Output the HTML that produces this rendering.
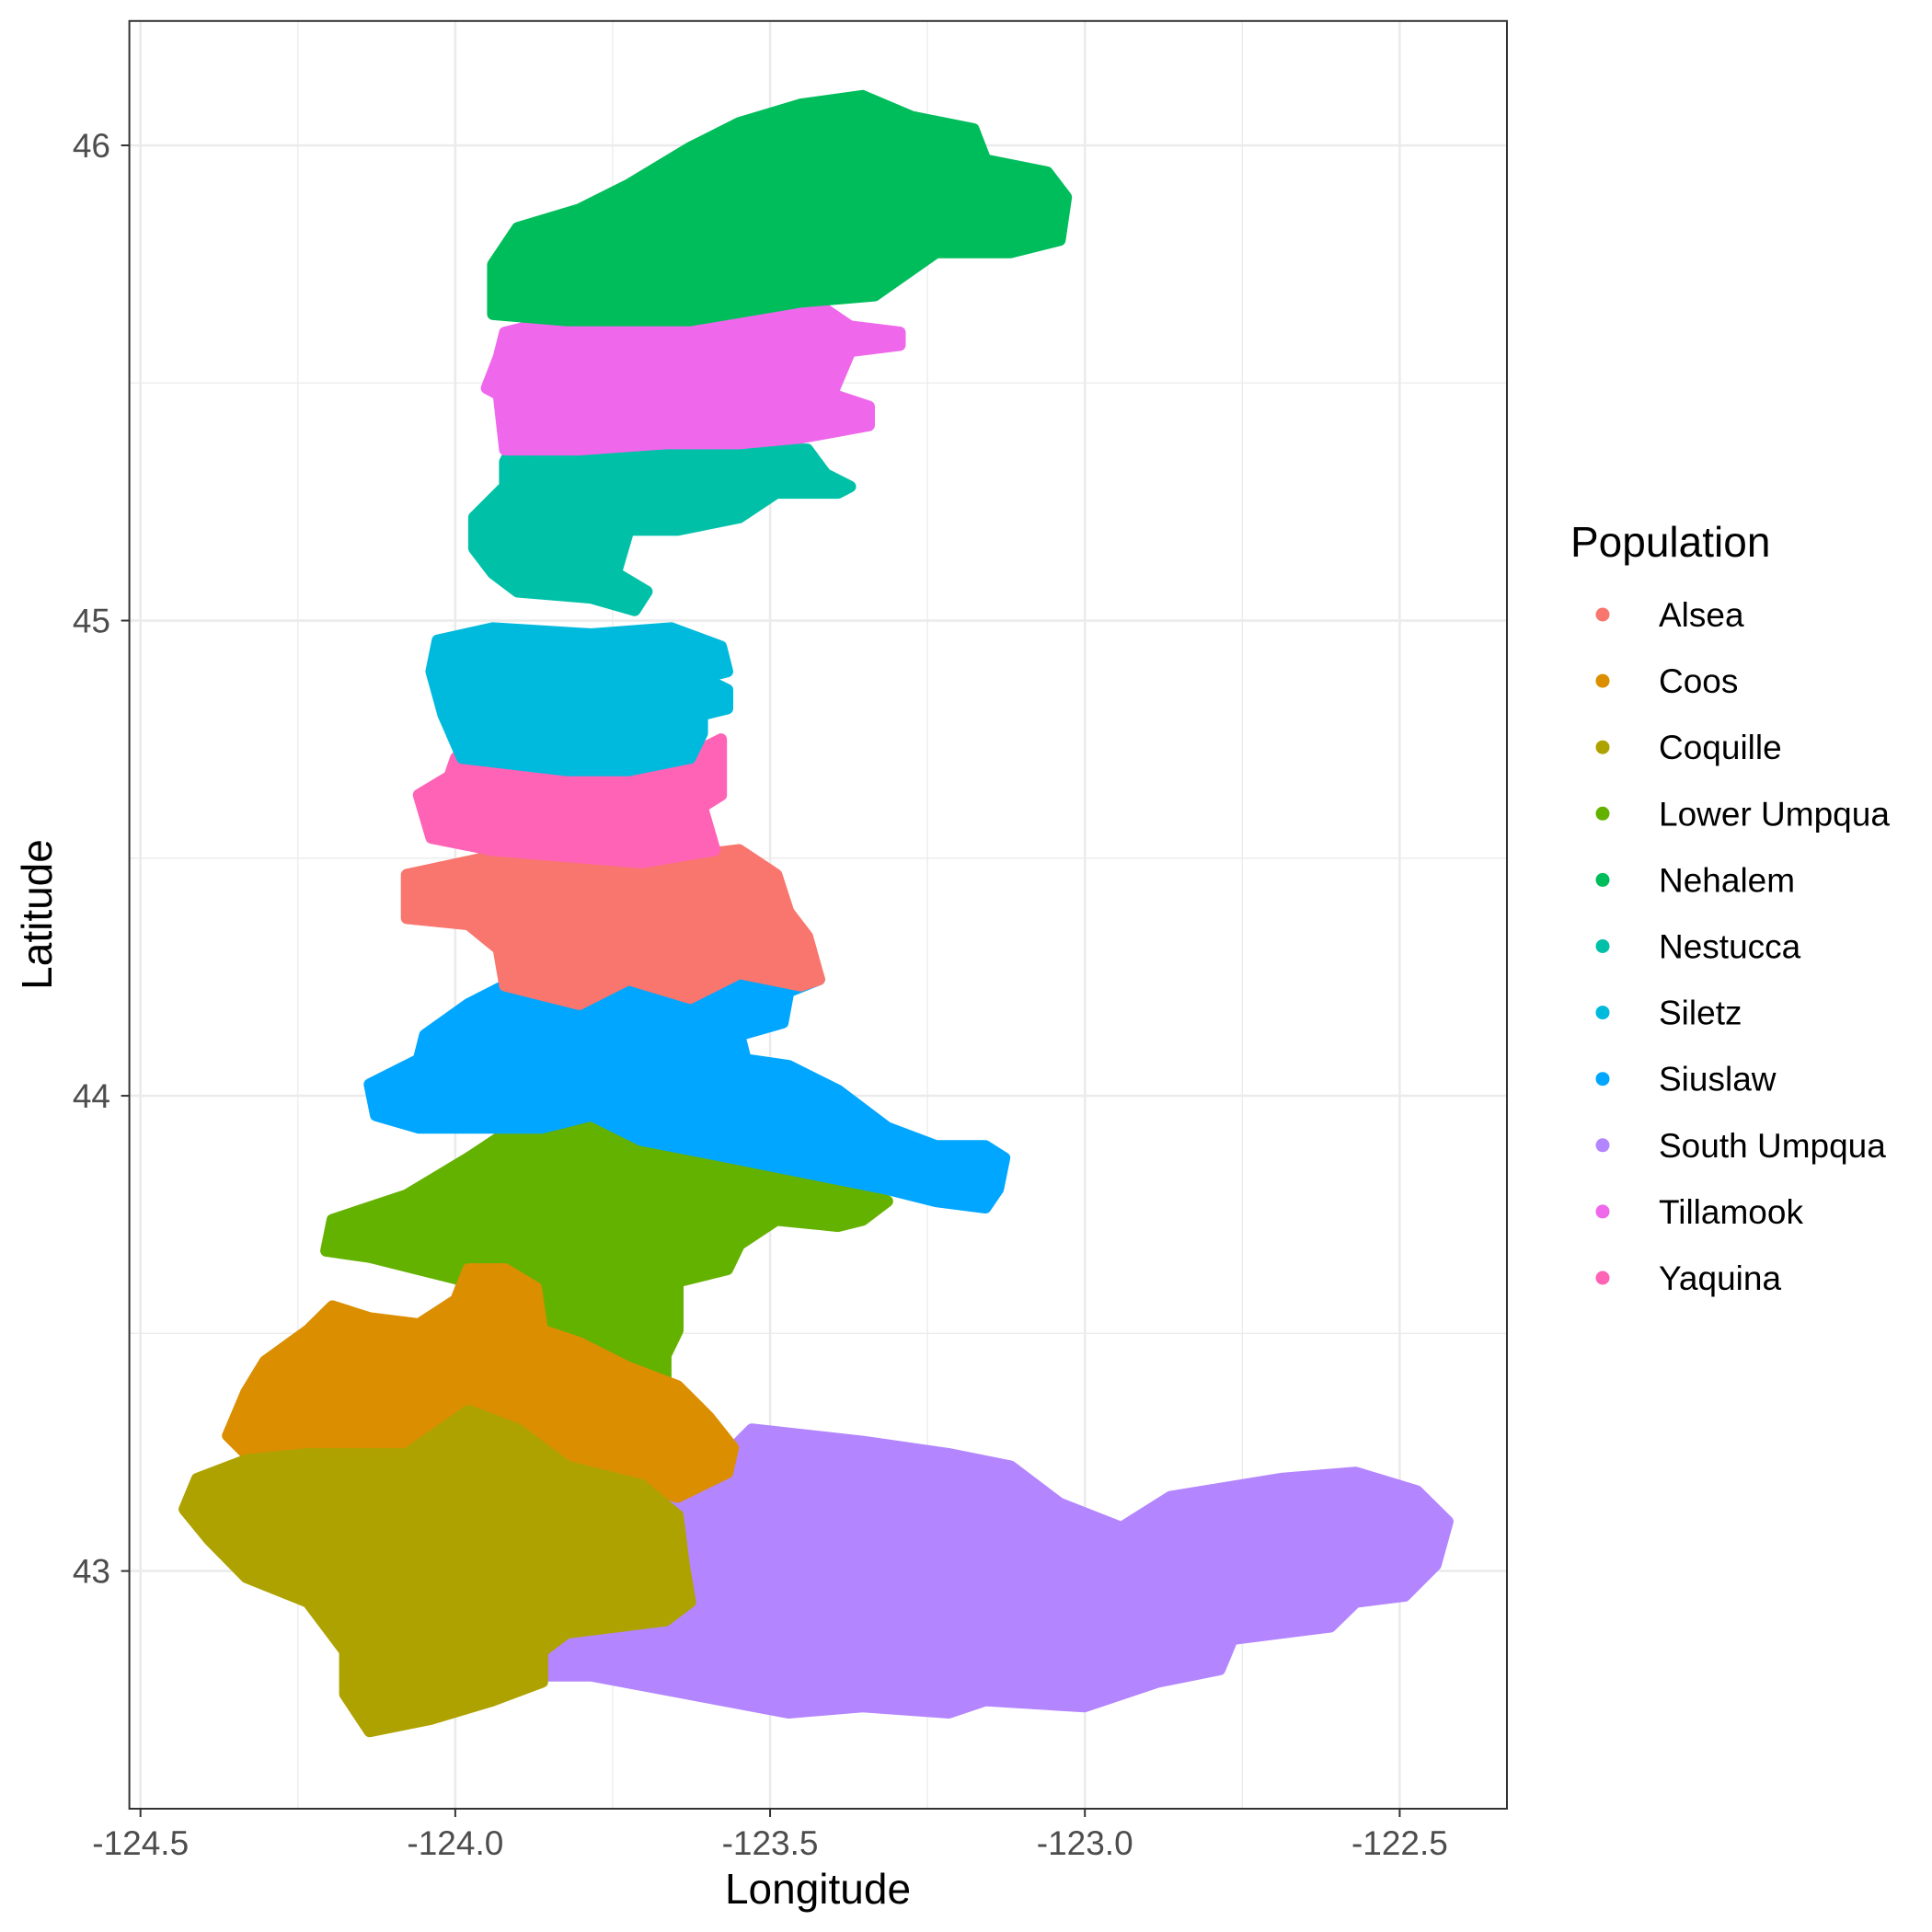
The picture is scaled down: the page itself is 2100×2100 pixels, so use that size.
<!DOCTYPE html>
<html><head><meta charset="utf-8"><style>
html,body{margin:0;padding:0;background:#fff;}
svg{display:block;font-family:"Liberation Sans",Arial,sans-serif;}
</style></head><body>
<svg id="chart" width="2100" height="2100" viewBox="0 0 2100 2100">
<rect width="2100" height="2100" fill="#fff"/>
<g id="grid"></g>
<g id="marks"></g>
<rect x="140.6" y="22.8" width="1497.4" height="1943.2" fill="none" stroke="#333" stroke-width="2"/>
<g id="axes"></g>
<text x="889" y="2069" font-size="46" text-anchor="middle" fill="#000">Longitude</text>
<text x="0" y="0" font-size="46" text-anchor="middle" fill="#000" transform="translate(56,994) rotate(-90)">Latitude</text>
<text x="1707" y="605" font-size="46" fill="#000">Population</text>
<g id="legend"></g>
</svg>
<script>
const xTicks=[-124.5,-124.0,-123.5,-123.0,-122.5];
const xTickLabels=["-124.5","-124.0","-123.5","-123.0","-122.5"];
const yTicks=[43,44,45,46];
const yTickLabels=["43","44","45","46"];
const populations=["Alsea","Coos","Coquille","Lower Umpqua","Nehalem","Nestucca","Siletz","Siuslaw","South Umpqua","Tillamook","Yaquina"];
const colors=["#F8766D","#DB8E00","#AEA200","#64B200","#00BD5C","#00C1A7","#00BADE","#00A6FF","#B385FF","#EF67EB","#FF63B6"];
const drawOrder=["South Umpqua","Lower Umpqua","Coos","Coquille","Siuslaw","Alsea","Yaquina","Siletz","Nestucca","Tillamook","Nehalem"];
const shapeLon={
"Nehalem":[-123.940,-123.901,-123.803,-123.725,-123.627,-123.549,-123.451,-123.353,-123.275,-123.177,-123.158,-123.060,-123.030,-123.040,-123.118,-123.236,-123.334,-123.451,-123.627,-123.823,-123.940],
"Tillamook":[-123.921,-123.842,-123.627,-123.431,-123.373,-123.294,-123.294,-123.373,-123.402,-123.343,-123.343,-123.451,-123.549,-123.666,-123.803,-123.921,-123.931,-123.950,-123.931],
"Nestucca":[-123.911,-123.803,-123.666,-123.549,-123.441,-123.412,-123.373,-123.392,-123.490,-123.549,-123.647,-123.725,-123.745,-123.696,-123.715,-123.784,-123.901,-123.940,-123.970,-123.970,-123.921,-123.921],
"Siletz":[-124.028,-123.940,-123.784,-123.657,-123.578,-123.568,-123.608,-123.568,-123.568,-123.608,-123.608,-123.627,-123.725,-123.823,-123.989,-124.019,-124.038],
"Yaquina":[-123.999,-123.842,-123.637,-123.578,-123.578,-123.608,-123.588,-123.705,-123.940,-124.038,-124.058,-124.009],
"Alsea":[-124.077,-123.940,-123.862,-123.725,-123.627,-123.549,-123.490,-123.471,-123.441,-123.422,-123.451,-123.549,-123.627,-123.725,-123.803,-123.921,-123.931,-123.979,-124.077],
"Siuslaw":[-124.136,-124.058,-124.048,-123.979,-123.921,-123.803,-123.705,-123.627,-123.549,-123.480,-123.422,-123.471,-123.480,-123.549,-123.539,-123.471,-123.392,-123.314,-123.236,-123.158,-123.128,-123.138,-123.158,-123.236,-123.314,-123.412,-123.510,-123.608,-123.705,-123.784,-123.862,-123.940,-124.058,-124.126],
"Lower Umpqua":[-124.205,-124.195,-124.077,-123.979,-123.921,-123.823,-123.745,-123.666,-123.588,-123.510,-123.392,-123.314,-123.353,-123.392,-123.490,-123.549,-123.568,-123.647,-123.647,-123.666,-123.666,-123.823,-123.862,-123.901,-123.979,-124.058,-124.136],
"Coos":[-124.234,-124.195,-124.136,-124.058,-123.999,-123.979,-123.921,-123.872,-123.862,-123.803,-123.725,-123.647,-123.598,-123.559,-123.568,-123.647,-123.745,-123.842,-123.940,-124.097,-124.234,-124.312,-124.361,-124.332,-124.302],
"Coquille":[-124.430,-124.410,-124.332,-124.234,-124.077,-123.979,-123.901,-123.823,-123.705,-123.647,-123.637,-123.627,-123.666,-123.823,-123.862,-123.862,-123.940,-124.038,-124.136,-124.175,-124.175,-124.234,-124.332,-124.390],
"South Umpqua":[-123.666,-123.568,-123.529,-123.353,-123.216,-123.118,-123.040,-122.942,-122.864,-122.688,-122.570,-122.473,-122.424,-122.443,-122.492,-122.570,-122.610,-122.766,-122.786,-122.884,-123.001,-123.158,-123.216,-123.353,-123.471,-123.627,-123.784,-123.862,-123.862,-123.803,-123.666,-123.627,-123.637]
};
const shapeLat={
"Nehalem":[45.749,45.826,45.865,45.917,45.995,46.047,46.086,46.104,46.060,46.034,45.969,45.943,45.891,45.801,45.775,45.775,45.684,45.671,45.632,45.632,45.645],
"Tillamook":[45.606,45.632,45.637,45.671,45.619,45.606,45.580,45.567,45.476,45.450,45.411,45.385,45.373,45.373,45.360,45.360,45.476,45.489,45.554],
"Nestucca":[45.360,45.347,45.373,45.360,45.360,45.308,45.282,45.269,45.269,45.217,45.191,45.191,45.100,45.061,45.022,45.048,45.061,45.100,45.152,45.217,45.282,45.334],
"Siletz":[44.958,44.984,44.971,44.984,44.945,44.893,44.880,44.854,44.815,44.802,44.763,44.711,44.685,44.685,44.711,44.802,44.893],
"Yaquina":[44.711,44.685,44.711,44.750,44.633,44.608,44.517,44.491,44.517,44.543,44.633,44.672],
"Alsea":[44.465,44.504,44.569,44.517,44.504,44.517,44.465,44.387,44.335,44.245,44.232,44.258,44.206,44.245,44.193,44.232,44.309,44.361,44.374],
"Siuslaw":[44.024,44.076,44.128,44.193,44.232,44.206,44.245,44.219,44.271,44.271,44.245,44.219,44.154,44.128,44.076,44.063,44.011,43.933,43.894,43.894,43.869,43.804,43.765,43.778,43.804,43.830,43.856,43.882,43.907,43.959,43.933,43.933,43.933,43.959],
"Lower Umpqua":[43.674,43.739,43.791,43.869,43.920,43.972,43.959,43.907,43.882,43.856,43.817,43.778,43.739,43.726,43.739,43.687,43.635,43.609,43.506,43.454,43.376,43.454,43.557,43.609,43.609,43.635,43.661],
"Coos":[43.506,43.557,43.532,43.519,43.570,43.635,43.635,43.596,43.506,43.480,43.428,43.389,43.324,43.259,43.207,43.156,43.194,43.220,43.246,43.233,43.246,43.220,43.285,43.376,43.441],
"Coquille":[43.130,43.194,43.233,43.246,43.246,43.337,43.298,43.220,43.181,43.117,43.013,42.935,42.896,42.870,42.831,42.767,42.728,42.689,42.663,42.741,42.831,42.935,42.987,43.065],
"South Umpqua":[43.156,43.246,43.298,43.272,43.246,43.220,43.142,43.091,43.156,43.194,43.207,43.168,43.104,43.013,42.948,42.935,42.883,42.857,42.793,42.767,42.715,42.728,42.702,42.715,42.702,42.741,42.780,42.780,42.857,42.883,42.896,42.948,43.065]
};
const NS="http://www.w3.org/2000/svg";
const PL=140.6,PR=1638,PT=22.8,PB=1966;
function xs(lon){return 152.7+(lon+124.5)*(1521.4-152.7)/2;}
function ys(lat){return 158+(46-lat)*(1707.6-158)/3;}
function mk(tag,attrs,parent){const e=document.createElementNS(NS,tag);for(const k in attrs)e.setAttribute(k,attrs[k]);parent.appendChild(e);return e;}
const grid=document.getElementById('grid');
mk('rect',{x:PL,y:PT,width:PR-PL,height:PB-PT,fill:'#fff'},grid);
// minor gridlines
for(let i=0;i<xTicks.length-1;i++){const v=(xTicks[i]+xTicks[i+1])/2;const l=mk('line',{x1:xs(v),x2:xs(v),y1:PT,y2:PB,stroke:'#EBEBEB','stroke-width':1.3},grid);

}
for(let i=0;i<yTicks.length;i++){[yTicks[i]-0.5,yTicks[i]+0.5].forEach(v=>{const y=ys(v);if(y>PT&&y<PB&&(i==0||v>yTicks[i])){const l=mk('line',{x1:PL,x2:PR,y1:y,y2:y,stroke:'#EBEBEB','stroke-width':1.3},grid);

}});}
xTicks.forEach(v=>{const l=mk('line',{x1:xs(v),x2:xs(v),y1:PT,y2:PB,stroke:'#EBEBEB','stroke-width':2.6},grid);

});
yTicks.forEach(v=>{const l=mk('line',{x1:PL,x2:PR,y1:ys(v),y2:ys(v),stroke:'#EBEBEB','stroke-width':2.6},grid);

});
const marks=document.getElementById('marks');
drawOrder.forEach(name=>{const c=colors[populations.indexOf(name)];const lo=shapeLon[name],la=shapeLat[name];
const pts=lo.map((v,i)=>xs(v).toFixed(1)+','+ys(la[i]).toFixed(1)).join(' ');
const p=mk('polygon',{points:pts,fill:c,stroke:c,'stroke-width':13,'stroke-linejoin':'round'},marks);

});
const axes=document.getElementById('axes');
xTicks.forEach((v,i)=>{const x=xs(v);const t=mk('line',{x1:x,x2:x,y1:PB,y2:PB+9,stroke:'#333','stroke-width':2},axes);


const tx=mk('text',{x:x,y:2016,'font-size':37,'text-anchor':'middle',fill:'#4D4D4D'},axes);tx.textContent=xTickLabels[i];

});
yTicks.forEach((v,i)=>{const y=ys(v);const t=mk('line',{x1:PL-9,x2:PL,y1:y,y2:y,stroke:'#333','stroke-width':2},axes);


const tx=mk('text',{x:120,y:y+13,'font-size':37,'text-anchor':'end',fill:'#4D4D4D'},axes);tx.textContent=yTickLabels[i];

});
const leg=document.getElementById('legend');
populations.forEach((n,i)=>{const y=668+i*72.1;const g=mk('g',{},leg);


mk('circle',{cx:1742,cy:y,r:7.5,fill:colors[i]},g);
const t=mk('text',{x:1803,y:y+13,'font-size':37,fill:'#000'},g);t.textContent=n;});
</script>
</body></html>
